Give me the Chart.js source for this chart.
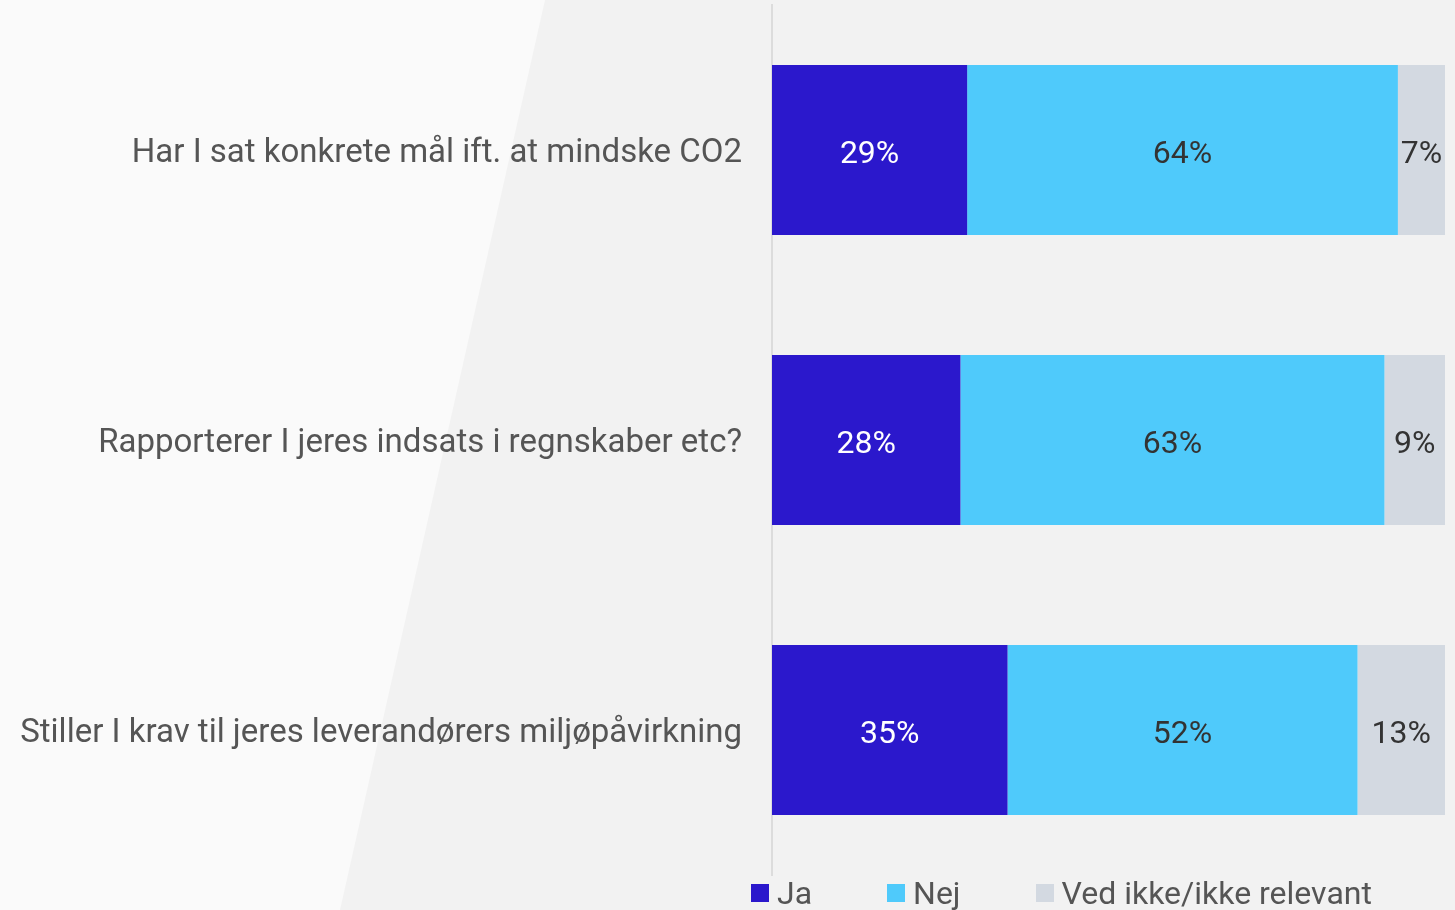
<!DOCTYPE html>
<html>
<head>
<meta charset="utf-8">
<script src="https://cdn.jsdelivr.net/npm/chart.js@4"></script>
<style>
  html, body { margin: 0; padding: 0; }
  body { width: 1455px; height: 910px; overflow: hidden; position: relative; background: #fafafa; }
  #shade {
    position: absolute; left: 0; top: 0; width: 1455px; height: 910px; background: #f2f2f2;
    clip-path: polygon(545px 0, 100% 0, 100% 100%, 340px 100%);
  }
  #wrap { position: absolute; left: 0; top: 0; width: 1455px; height: 910px; }
  #legend {
    position: absolute; left: 751px; top: 873px; height: 40px;
    display: flex; align-items: center; white-space: nowrap;
    font-family: Roboto, sans-serif; font-size: 32px; color: #555;
  }
  #legend .item { display: flex; align-items: center; margin-right: 75px; }
  #legend .box { width: 18px; height: 18px; margin-right: 8px; }
</style>
</head>
<body>
<div id="shade"></div>
<div id="wrap"><canvas id="chart"></canvas></div>
<div id="legend"></div>
<script>
const categories = [
  'Har I sat konkrete mål ift. at mindske CO2',
  'Rapporterer I jeres indsats i regnskaber etc?',
  'Stiller I krav til jeres leverandørers miljøpåvirkning'
];
const seriesNames = ['Ja', 'Nej', 'Ved ikke/ikke relevant'];
const jaValues = [29, 28, 35];
const nejValues = [64, 63, 52];
const vedValues = [7, 9, 13];
const seriesColors = ['#2b18cc', '#4fcafb', '#d3d9e1'];
const labelColors = ['#ffffff', '#333333', '#333333'];

// draws the percentage inside each bar segment
const valueLabels = {
    id: 'valueLabels',
    afterDatasetsDraw(chart) {
        const ctx = chart.ctx;
        ctx.save();
        ctx.font = '32px Roboto, sans-serif';
        ctx.textAlign = 'center';
        ctx.textBaseline = 'middle';
        chart.data.datasets.forEach((ds, i) => {
            chart.getDatasetMeta(i).data.forEach((bar, j) => {
                const cx = (bar.x + bar.base) / 2;
                ctx.fillStyle = labelColors[i];
                ctx.fillText(ds.data[j] + '%', cx, bar.y + 5);
            });
        });
        ctx.restore();
    }
};

const ctx = document.getElementById('chart').getContext('2d');
new Chart(ctx, {
    type: 'bar',
    data: {
        labels: categories,
        datasets: [jaValues, nejValues, vedValues].map((vals, i) => ({
            label: seriesNames[i],
            data: vals,
            backgroundColor: seriesColors[i],
            borderWidth: 0,
            categoryPercentage: 1,
            barPercentage: 0.586
        }))
    },
    options: {
        indexAxis: 'y',
        responsive: true,
        maintainAspectRatio: false,
        animation: false,
        layout: { padding: { top: 5, right: 10, bottom: 35, left: 0 } },
        scales: {
            x: {
                stacked: true, min: 0, max: 100,
                display: false
            },
            y: {
                stacked: true,
                grid: { display: false, drawTicks: false },
                border: { display: true, color: '#dcdcdc', width: 2 },
                ticks: {
                    padding: 30,
                    labelOffset: 4,
                    color: '#555555',
                    font: { family: 'Roboto, sans-serif', size: 33 }
                },
                afterFit(scale) {
                    scale.width = 772;
                    scale.paddingTop = 0;
                    scale.paddingBottom = 0;
                }
            }
        },
        plugins: {
            legend: { display: false },
            tooltip: { enabled: false }
        }
    },
    plugins: [valueLabels]
});

// legend as html so spacing can match
const legendEl = document.getElementById('legend');
seriesNames.forEach((name, i) => {
    const item = document.createElement('div');
    item.className = 'item';
    item.innerHTML = `<span class="box" style="background:${seriesColors[i]}"></span><span>${name}</span>`;
    legendEl.appendChild(item);
});
</script>
</body>
</html>
